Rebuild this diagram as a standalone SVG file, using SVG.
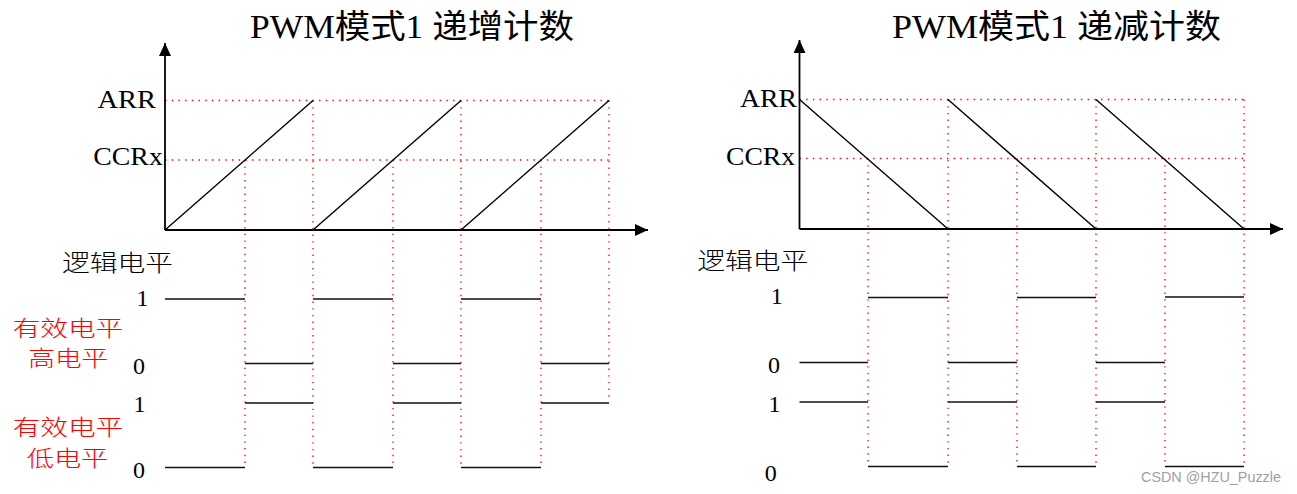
<svg xmlns="http://www.w3.org/2000/svg" width="1297" height="494" viewBox="0 0 1297 494">
<style>
.t{font-family:"Liberation Serif","Noto Sans CJK SC",serif;fill:#000}
.cj{font-family:"Noto Sans CJK SC","Liberation Serif",sans-serif;fill:#000;font-weight:300}
.red{fill:#ff0000}
.ax{stroke:#000;stroke-width:1.8;fill:none}
.ramp{stroke:#000;stroke-width:1.4;fill:none}
.lvl{stroke:#111;stroke-width:1.7;fill:none}
.dot{stroke:#ff0000;stroke-width:1.3;stroke-dasharray:1.4 5.3;fill:none}
.wm{font-family:"Liberation Sans",Arial,sans-serif;fill:#a0a0a0;font-size:14px}
</style>
<defs>
<marker id="arr" markerUnits="userSpaceOnUse" markerWidth="14" markerHeight="13" refX="13" refY="6" orient="auto">
<path d="M0,0 L13,6 L0,12 z" fill="#000"/>
</marker>
</defs>
<rect width="1297" height="494" fill="#fff"/>

<g id="left-chart">
<g id="left-title"><text class="t" x="250" y="38" font-size="33" textLength="324" lengthAdjust="spacingAndGlyphs">PWM模式1 递增计数</text></g>
<g id="left-guides">
<line class="dot" x1="165" y1="100.5" x2="609" y2="100.5"/>
<line class="dot" x1="165" y1="160" x2="609" y2="160"/>
<line class="dot" x1="245" y1="160" x2="245" y2="466"/>
<line class="dot" x1="313" y1="100.5" x2="313" y2="467"/>
<line class="dot" x1="393" y1="160" x2="393" y2="467"/>
<line class="dot" x1="461" y1="100.5" x2="461" y2="467"/>
<line class="dot" x1="541" y1="160" x2="541" y2="467"/>
<line class="dot" x1="609" y1="100.5" x2="609" y2="397"/>
</g>
<g id="left-axes">
<line class="ax" x1="165" y1="230" x2="165" y2="43" marker-end="url(#arr)"/>
<line class="ax" x1="165" y1="230" x2="648" y2="230" marker-end="url(#arr)"/>
</g>
<g id="left-ramps">
<line class="ramp" x1="165" y1="230" x2="313" y2="100.5"/>
<line class="ramp" x1="313" y1="230" x2="461" y2="100.5"/>
<line class="ramp" x1="461" y1="230" x2="609" y2="100.5"/>
</g>
<g id="left-labels">
<text class="t" x="97.5" y="108.3" font-size="25" textLength="58.5" lengthAdjust="spacingAndGlyphs">ARR</text>
<text class="t" x="93.3" y="165" font-size="25" textLength="69.5" lengthAdjust="spacingAndGlyphs">CCRx</text>
<text class="cj" x="62" y="271" font-size="23" textLength="111" lengthAdjust="spacingAndGlyphs">逻辑电平</text>
<text class="t" x="142.5" y="306" font-size="24" text-anchor="middle">1</text>
<text class="t" x="139" y="374" font-size="24" text-anchor="middle">0</text>
<text class="t" x="139.5" y="412" font-size="24" text-anchor="middle">1</text>
<text class="t" x="139" y="478" font-size="24" text-anchor="middle">0</text>
<text class="cj red" x="12.7" y="335.5" font-size="22" textLength="110.6" lengthAdjust="spacingAndGlyphs">有效电平</text>
<text class="cj red" x="28.3" y="366" font-size="22" textLength="80" lengthAdjust="spacingAndGlyphs">高电平</text>
<text class="cj red" x="12.7" y="435" font-size="22" textLength="110.6" lengthAdjust="spacingAndGlyphs">有效电平</text>
<text class="cj red" x="26.7" y="466" font-size="22" textLength="81.6" lengthAdjust="spacingAndGlyphs">低电平</text>
</g>
<g id="left-high-active">
<line class="lvl" x1="165" y1="299" x2="245" y2="299"/>
<line class="lvl" x1="313" y1="299" x2="393" y2="299"/>
<line class="lvl" x1="461" y1="299" x2="541" y2="299"/>
<line class="lvl" x1="245" y1="363.5" x2="313" y2="363.5"/>
<line class="lvl" x1="393" y1="363.5" x2="461" y2="363.5"/>
<line class="lvl" x1="541" y1="363.5" x2="609" y2="363.5"/>
</g>
<g id="left-low-active">
<line class="lvl" x1="245" y1="403" x2="313" y2="403"/>
<line class="lvl" x1="393" y1="403" x2="461" y2="403"/>
<line class="lvl" x1="541" y1="403" x2="609" y2="403"/>
<line class="lvl" x1="165" y1="467.5" x2="245" y2="467.5"/>
<line class="lvl" x1="313" y1="467.5" x2="393" y2="467.5"/>
<line class="lvl" x1="461" y1="467.5" x2="541" y2="467.5"/>
</g>
</g>

<g id="right-chart">
<g id="right-title"><text class="t" x="892" y="38" font-size="33" textLength="329" lengthAdjust="spacingAndGlyphs">PWM模式1 递减计数</text></g>
<g id="right-guides">
<line class="dot" x1="799.5" y1="99.5" x2="1244" y2="99.5"/>
<line class="dot" x1="799.5" y1="158.5" x2="1244" y2="158.5"/>
<line class="dot" x1="868" y1="158.5" x2="868" y2="464"/>
<line class="dot" x1="948" y1="99.5" x2="948" y2="464"/>
<line class="dot" x1="1017" y1="158.5" x2="1017" y2="464"/>
<line class="dot" x1="1096" y1="99.5" x2="1096" y2="464"/>
<line class="dot" x1="1165" y1="158.5" x2="1165" y2="464"/>
<line class="dot" x1="1244" y1="99.5" x2="1244" y2="464"/>
</g>
<g id="right-axes">
<line class="ax" x1="799.5" y1="229" x2="799.5" y2="40" marker-end="url(#arr)"/>
<line class="ax" x1="799.5" y1="229" x2="1283" y2="229" marker-end="url(#arr)"/>
</g>
<g id="right-ramps">
<line class="ramp" x1="799.5" y1="99.5" x2="948" y2="229"/>
<line class="ramp" x1="948" y1="99.5" x2="1096" y2="229"/>
<line class="ramp" x1="1096" y1="99.5" x2="1244" y2="229"/>
</g>
<g id="right-labels">
<text class="t" x="740" y="107.3" font-size="25" textLength="57" lengthAdjust="spacingAndGlyphs">ARR</text>
<text class="t" x="726" y="165" font-size="25" textLength="69" lengthAdjust="spacingAndGlyphs">CCRx</text>
<text class="cj" x="697.3" y="269" font-size="23" textLength="111" lengthAdjust="spacingAndGlyphs">逻辑电平</text>
<text class="t" x="776.7" y="304" font-size="24" text-anchor="middle">1</text>
<text class="t" x="774" y="373" font-size="24" text-anchor="middle">0</text>
<text class="t" x="774.5" y="412" font-size="24" text-anchor="middle">1</text>
<text class="t" x="770.7" y="481" font-size="24" text-anchor="middle">0</text>
</g>
<g id="right-high-active">
<line class="lvl" x1="868" y1="297.5" x2="948" y2="297.5"/>
<line class="lvl" x1="1017" y1="297.5" x2="1096" y2="297.5"/>
<line class="lvl" x1="1165" y1="297" x2="1244" y2="297"/>
<line class="lvl" x1="799.5" y1="362.5" x2="868" y2="362.5"/>
<line class="lvl" x1="948" y1="362.5" x2="1017" y2="362.5"/>
<line class="lvl" x1="1096" y1="362.5" x2="1165" y2="362.5"/>
</g>
<g id="right-low-active">
<line class="lvl" x1="799.5" y1="402" x2="868" y2="402"/>
<line class="lvl" x1="948" y1="402" x2="1017" y2="402"/>
<line class="lvl" x1="1096" y1="402" x2="1165" y2="402"/>
<line class="lvl" x1="868" y1="466.5" x2="948" y2="466.5"/>
<line class="lvl" x1="1017" y1="466.5" x2="1096" y2="466.5"/>
<line class="lvl" x1="1165" y1="466.5" x2="1244" y2="466.5"/>
</g>
</g>

<g id="watermark"><text class="wm" x="1141" y="482" textLength="140" lengthAdjust="spacingAndGlyphs">CSDN @HZU_Puzzle</text></g>
</svg>
